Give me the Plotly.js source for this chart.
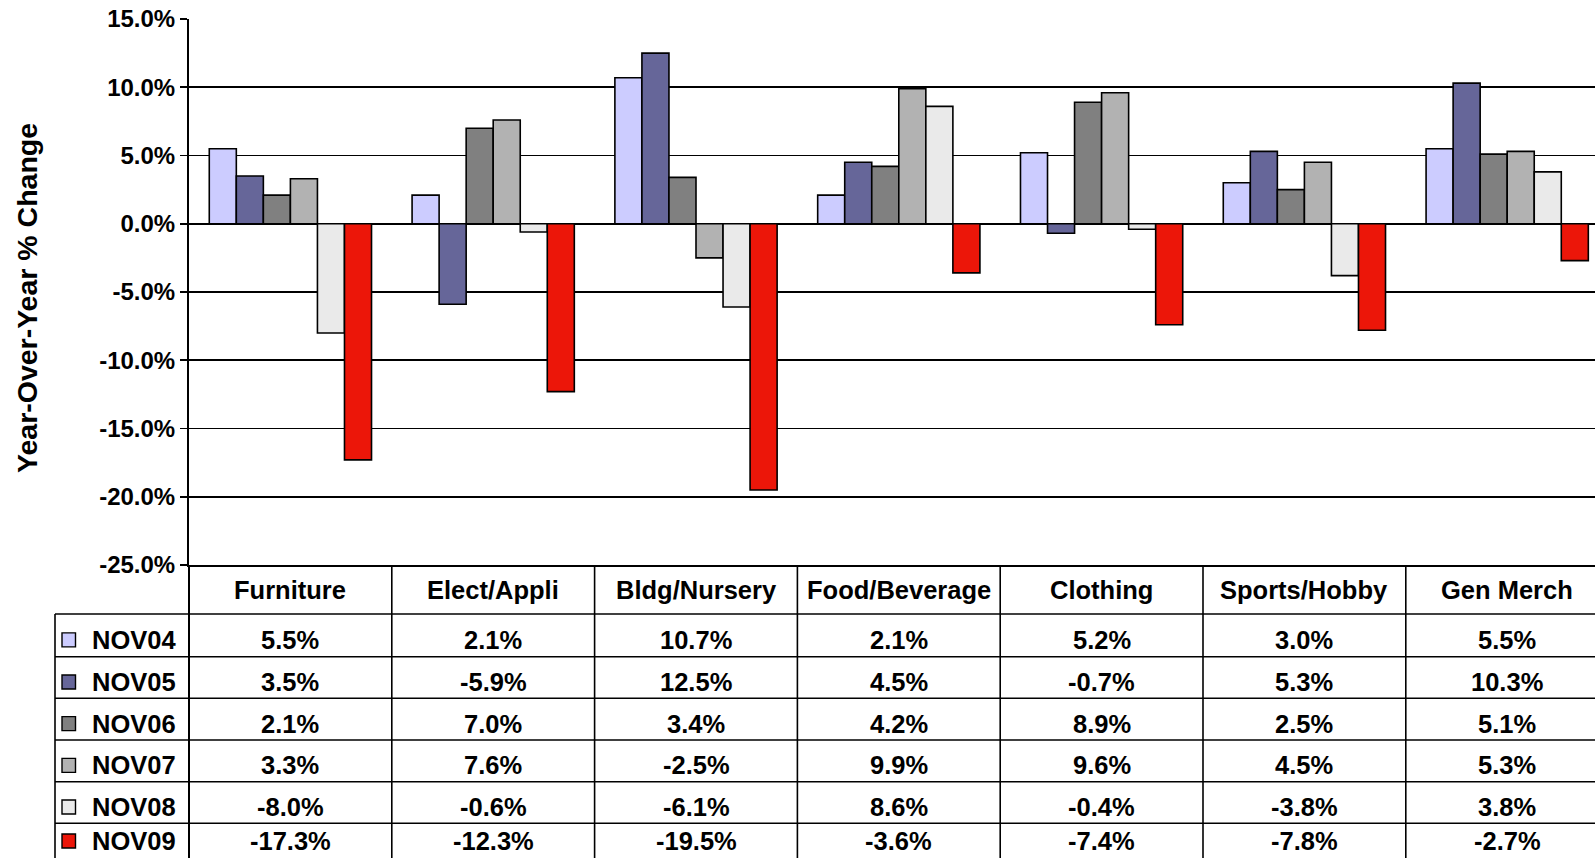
<!DOCTYPE html>
<html>
<head>
<meta charset="utf-8">
<script src="https://cdn.plot.ly/plotly-3.0.1.min.js"></script>
<style>
  html, body { margin: 0; padding: 0; background: #fff; }
  #chart { width: 1595px; height: 858px; }
</style>
</head>
<body>
<div id="chart"></div>
<script>
// ---------------- DATA ----------------
const categories = ['Furniture', 'Elect/Appli', 'Bldg/Nursery', 'Food/Beverage', 'Clothing', 'Sports/Hobby', 'Gen Merch'];
const seriesNames = ['NOV04', 'NOV05', 'NOV06', 'NOV07', 'NOV08', 'NOV09'];
const nov04 = [5.5, 2.1, 10.7, 2.1, 5.2, 3.0, 5.5];
const nov05 = [3.5, -5.9, 12.5, 4.5, -0.7, 5.3, 10.3];
const nov06 = [2.1, 7.0, 3.4, 4.2, 8.9, 2.5, 5.1];
const nov07 = [3.3, 7.6, -2.5, 9.9, 9.6, 4.5, 5.3];
const nov08 = [-8.0, -0.6, -6.1, 8.6, -0.4, -3.8, 3.8];
const nov09 = [-17.3, -12.3, -19.5, -3.6, -7.4, -7.8, -2.7];
const yTickVals = [-25, -20, -15, -10, -5, 0, 5, 10, 15];
const yTitle = 'Year-Over-Year % Change';

// ---------------- STYLE ----------------
const seriesValues = [nov04, nov05, nov06, nov07, nov08, nov09];
const seriesColors = ['#CCCCFF', '#666699', '#808080', '#B2B2B2', '#EAEAEA', '#EC1609'];
const FONT = 'Liberation Sans, Arial, Helvetica, sans-serif';
const W = 1595, H = 858;
const M = { l: 189, r: 0, t: 19, b: 293 };
const plotW = W - M.l - M.r, plotH = H - M.t - M.b;
const px2x = px => (px - M.l) / plotW;          // pixel -> paper x
const px2y = py => (H - M.b - py) / plotH;       // pixel -> paper y
const catWidthPx = 202.8;
const xMax = -0.5 + plotW / catWidthPx;

const fmt = v => v.toFixed(1) + '%';

const traces = seriesNames.map((name, i) => ({
  type: 'bar',
  name: name,
  x: categories,
  y: seriesValues[i],
  marker: { color: seriesColors[i], line: { color: '#000', width: 1.6 } },
  hoverinfo: 'none',
  showlegend: false
}));

// ---------------- TABLE ----------------
const headerTop = 565, headerBottom = 614;
const rowLines = [614, 656.7, 698.3, 740, 781.7, 823.3, 865];
const shapes = [];
const annotations = [];
const lineStyle = { color: '#000', width: 1.6 };

// left border of legend column
shapes.push({ type: 'line', xref: 'paper', yref: 'paper', x0: px2x(55), x1: px2x(55), y0: px2y(headerBottom), y1: px2y(H), line: lineStyle });
// y-axis line continuing through the table
shapes.push({ type: 'line', xref: 'paper', yref: 'paper', x0: 0, x1: 0, y0: px2y(headerTop), y1: px2y(H), line: { color: '#000', width: 2 } });
// horizontal row lines
rowLines.slice(0, 6).forEach(py => {
  shapes.push({ type: 'line', xref: 'paper', yref: 'paper', x0: px2x(55), x1: 1, y0: px2y(py), y1: px2y(py), line: lineStyle });
});
// vertical separators between categories
categories.forEach((c, i) => {
  if (i + 0.5 < xMax) {
    shapes.push({ type: 'line', xref: 'x', yref: 'paper', x0: i + 0.5, x1: i + 0.5, y0: px2y(headerTop), y1: px2y(H), line: lineStyle });
  }
});
// header text
categories.forEach((c, i) => {
  annotations.push({ xref: 'x', yref: 'paper', x: i, y: px2y((headerTop + headerBottom) / 2), text: c, showarrow: false,
    xanchor: 'center', yanchor: 'middle', borderpad: 0, font: { family: FONT, size: 25.5, weight: 'bold', color: '#000' } });
});
// rows
seriesNames.forEach((name, r) => {
  const cy = Math.min((rowLines[r] + rowLines[r + 1]) / 2 + 4.5, 841);
  shapes.push({ type: 'rect', xref: 'paper', yref: 'paper', x0: px2x(62), x1: px2x(75.5), y0: px2y(cy - 7), y1: px2y(cy + 7),
    fillcolor: seriesColors[r], line: { color: '#000', width: 1.4 } });
  annotations.push({ xref: 'paper', yref: 'paper', x: px2x(91), y: px2y(cy), text: name, showarrow: false,
    xanchor: 'left', yanchor: 'middle', borderpad: 0, font: { family: FONT, size: 25.5, weight: 'bold', color: '#000' } });
  seriesValues[r].forEach((v, i) => {
    annotations.push({ xref: 'x', yref: 'paper', x: i, y: px2y(cy), text: fmt(v), showarrow: false,
      xanchor: 'center', yanchor: 'middle', borderpad: 0, font: { family: FONT, size: 25.5, weight: 'bold', color: '#000' } });
  });
});
// y-axis title
annotations.push({ xref: 'paper', yref: 'paper', x: px2x(27), y: px2y(298), text: yTitle, textangle: -90, showarrow: false,
  xanchor: 'center', yanchor: 'middle', borderpad: 0, font: { family: FONT, size: 28.5, weight: 'bold', color: '#000' } });

const layout = {
  width: W, height: H,
  margin: M,
  paper_bgcolor: '#fff', plot_bgcolor: '#fff',
  barmode: 'group', bargap: 0.2, bargroupgap: 0,
  showlegend: false,
  xaxis: {
    type: 'category', range: [-0.5, xMax], showticklabels: false, ticks: '',
    showgrid: false, zeroline: false, showline: true, linecolor: '#000', linewidth: 2, fixedrange: true
  },
  yaxis: {
    range: [-25, 15], tickvals: yTickVals, ticktext: yTickVals.map(fmt),
    ticks: 'outside', ticklen: 7, tickwidth: 1.6, tickcolor: '#000',
    showgrid: true, gridcolor: '#000', gridwidth: 1.6,
    zeroline: true, zerolinecolor: '#000', zerolinewidth: 1.6,
    showline: true, linecolor: '#000', linewidth: 2, fixedrange: true,
    tickfont: { family: FONT, size: 24, weight: 'bold', color: '#000' }
  },
  shapes: shapes,
  annotations: annotations
};

Plotly.newPlot('chart', traces, layout, { displayModeBar: false, staticPlot: true });
</script>
</body>
</html>
